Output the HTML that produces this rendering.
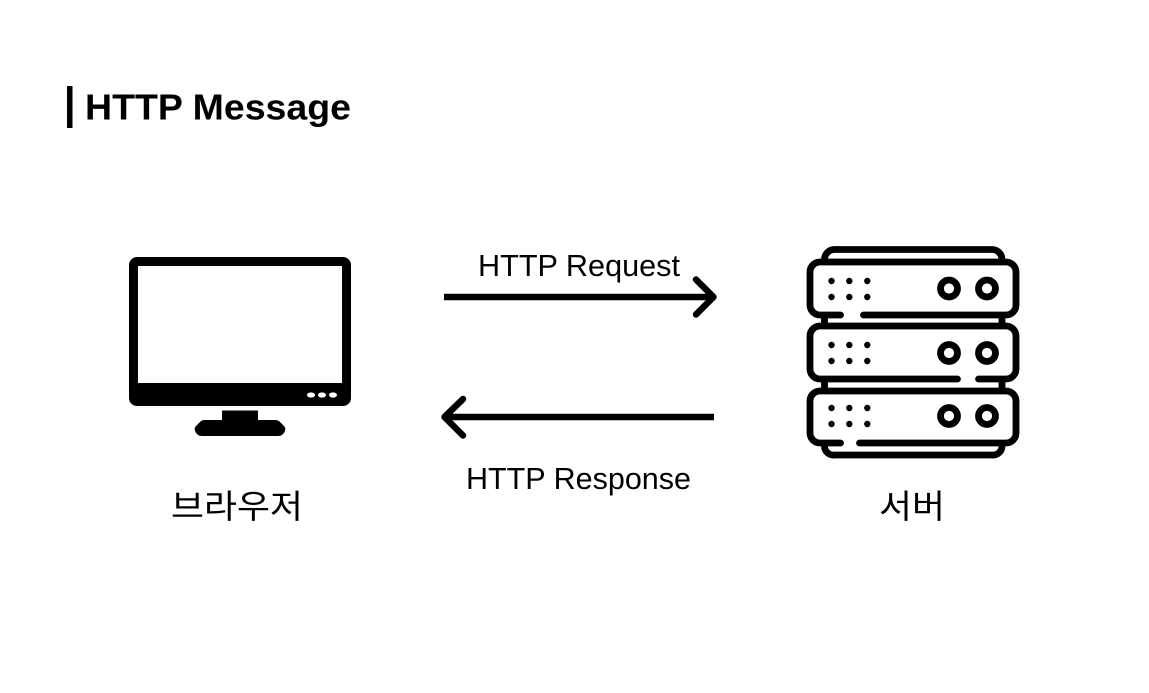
<!DOCTYPE html>
<html lang="ko">
<head>
<meta charset="utf-8">
<style>
html,body{margin:0;padding:0;background:#fff;width:1149px;height:693px;overflow:hidden}
svg{display:block}
text{font-family:"Liberation Sans","Noto Sans CJK KR",sans-serif;fill:#000}
.k{font-family:"Noto Sans CJK KR","NanumGothic",sans-serif;font-size:33px}
</style>
</head>
<body>
<svg width="1149" height="693" viewBox="0 0 1149 693" xmlns="http://www.w3.org/2000/svg">
<rect width="1149" height="693" fill="#fff"/>
<rect x="67" y="86" width="5.500" height="42" fill="#000"/>
<text x="85" y="119.500" font-size="36.500" font-weight="700" textLength="266" lengthAdjust="spacingAndGlyphs">HTTP Message</text>

<!-- monitor -->
<rect x="129" y="257" width="222" height="149" rx="8" fill="#000"/>
<rect x="138" y="266" width="204" height="117" fill="#fff"/>
<ellipse cx="311" cy="395" rx="4" ry="2.600" fill="#fff"/>
<ellipse cx="322" cy="395" rx="4" ry="2.600" fill="#fff"/>
<ellipse cx="333" cy="395" rx="4" ry="2.600" fill="#fff"/>
<rect x="222" y="410.500" width="36" height="11" fill="#000"/>
<path d="M204 420H275Q278 420 280 422L284 426Q286 428 285 431Q283 436 278 436H202Q197 436 195 431Q194 428 196 426L200 422Q202 420 204 420Z" fill="#000"/>

<!-- arrows -->
<g fill="none" stroke="#000" stroke-width="6.500" stroke-linejoin="round" stroke-linecap="round">
<path d="M444 297H714" stroke-linecap="butt"/>
<path d="M696 279.500L713.500 297L696 314.500"/>
<path d="M444 417H714" stroke-linecap="butt"/>
<path d="M463 399L444.500 417L463 435.500"/>
</g>
<text x="478" y="276" font-size="30.500" textLength="202" lengthAdjust="spacingAndGlyphs">HTTP Request</text>
<text x="466" y="489" font-size="30.500" textLength="225" lengthAdjust="spacingAndGlyphs">HTTP Response</text>

<!-- server -->
<g fill="none" stroke="#000" stroke-width="6.800" stroke-linecap="round" stroke-linejoin="round">
<path d="M824.500 259V259A10 10 0 0 1 834.500 249.500H992A10 10 0 0 1 1002 259.500" stroke-linecap="butt"/>
<path d="M840.500 315H820A10 10 0 0 1 810 305V272A10 10 0 0 1 820 262H1006A10 10 0 0 1 1016 272V305A10 10 0 0 1 1006 315H863.500"/>
<path d="M824.500 318V323M1002 318V323" stroke-linecap="butt"/>
<path d="M957.500 379H820A10 10 0 0 1 810 369V336A10 10 0 0 1 820 326H1006A10 10 0 0 1 1016 336V369A10 10 0 0 1 1006 379H978.500"/>
<path d="M824.500 382V388M1002 382V388" stroke-linecap="butt"/>
<path d="M840.500 443H820A10 10 0 0 1 810 433V401A10 10 0 0 1 820 391H1006A10 10 0 0 1 1016 401V433A10 10 0 0 1 1006 443H859.500"/>
<path d="M824.500 446A9 9 0 0 0 834.500 455H992A9 9 0 0 0 1002 446" stroke-linecap="butt"/>
<circle cx="949" cy="288.500" r="8.500"/>
<circle cx="987" cy="288.500" r="8.500"/>
<circle cx="949" cy="353" r="8.500"/>
<circle cx="987" cy="353" r="8.500"/>
<circle cx="949" cy="416" r="8.500"/>
<circle cx="987" cy="416" r="8.500"/>
</g>
<g fill="#000">
<circle cx="831.500" cy="281" r="3.200"/><circle cx="849.300" cy="281" r="3.200"/><circle cx="867.300" cy="281" r="3.200"/>
<circle cx="831.500" cy="297" r="3.200"/><circle cx="849.300" cy="297" r="3.200"/><circle cx="867.300" cy="297" r="3.200"/>
<circle cx="831.500" cy="345" r="3.200"/><circle cx="849.300" cy="345" r="3.200"/><circle cx="867.300" cy="345" r="3.200"/>
<circle cx="831.500" cy="361" r="3.200"/><circle cx="849.300" cy="361" r="3.200"/><circle cx="867.300" cy="361" r="3.200"/>
<circle cx="831.500" cy="408" r="3.200"/><circle cx="849.300" cy="408" r="3.200"/><circle cx="867.300" cy="408" r="3.200"/>
<circle cx="831.500" cy="424" r="3.200"/><circle cx="849.300" cy="424" r="3.200"/><circle cx="867.300" cy="424" r="3.200"/>
</g>

<text class="k" x="171" y="518" textLength="132" lengthAdjust="spacingAndGlyphs">브라우저</text>
<text class="k" x="879" y="518" textLength="66" lengthAdjust="spacingAndGlyphs">서버</text>
</svg>
</body>
</html>
